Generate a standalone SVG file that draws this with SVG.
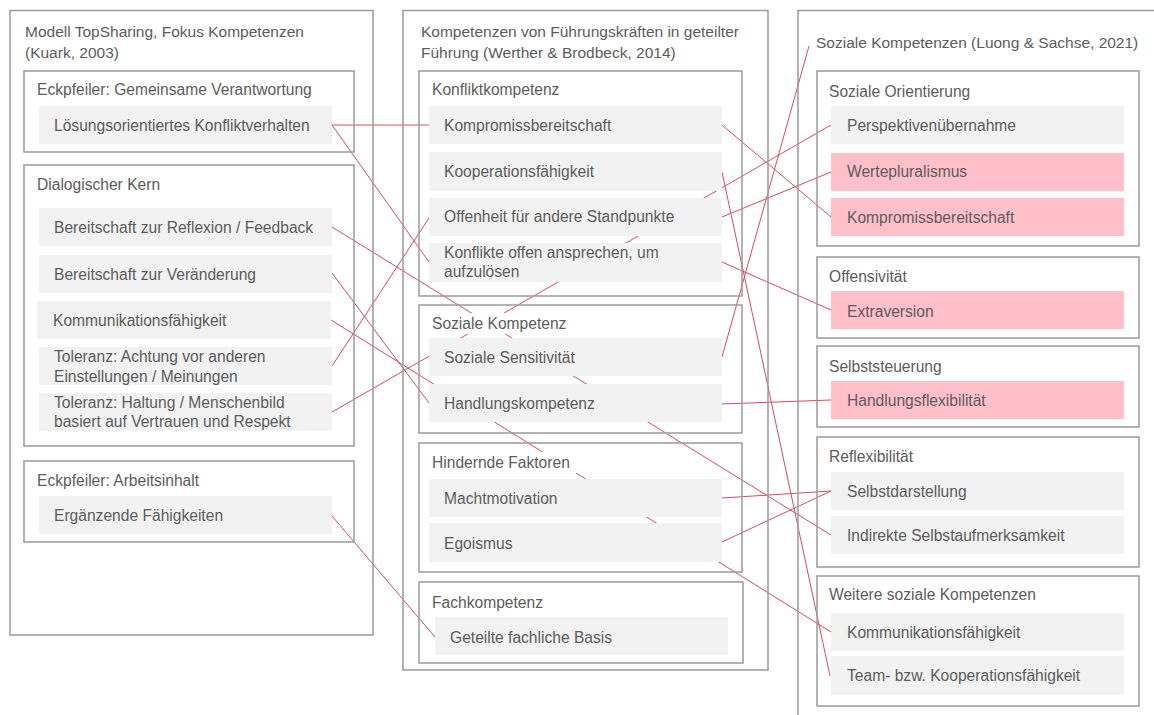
<svg xmlns="http://www.w3.org/2000/svg" width="1154" height="715" viewBox="0 0 1154 715">
<style>
.box{fill:none;stroke:#9a9a9a;stroke-width:1.5}
.item{fill:#f2f2f2}
.pink{fill:#ffc0c9}
.tbg{fill:#ffffff}
text{font-family:"Liberation Sans",Arial,sans-serif;font-size:15.6px;fill:#5c5c5c}
.h{font-size:15.5px}
.con line{stroke:#dc4a5e;stroke-width:1;fill:none}
</style>
<rect width="1154" height="715" fill="#ffffff"/>
<g id="connectors" class="con">
<line x1="332" y1="125" x2="429" y2="125"/>
<line x1="332" y1="125" x2="429" y2="262"/>
<line x1="332" y1="227" x2="831" y2="535"/>
<line x1="332" y1="273" x2="429" y2="403"/>
<line x1="331" y1="320" x2="831" y2="632"/>
<line x1="332" y1="366" x2="429" y2="218"/>
<line x1="332" y1="412" x2="831" y2="125"/>
<line x1="332" y1="516" x2="435" y2="637"/>
<line x1="722" y1="125" x2="831" y2="217"/>
<line x1="722" y1="172" x2="830" y2="676"/>
<line x1="722" y1="357" x2="809" y2="46"/>
<line x1="722" y1="217" x2="831" y2="172"/>
<line x1="722" y1="262" x2="831" y2="310"/>
<line x1="722" y1="404" x2="831" y2="400"/>
<line x1="722" y1="498" x2="831" y2="491"/>
<line x1="722" y1="542" x2="831" y2="491"/>
</g>
<!-- left column -->
<g id="col-left">
<rect class="box" x="10" y="10.5" width="363" height="624.5"/>
<text class="h" x="25" y="37">Modell TopSharing, Fokus Kompetenzen</text>
<text class="h" x="25" y="58">(Kuark, 2003)</text>
</g>
<g id="grp-verantwortung">
<rect class="box" x="24" y="71" width="330" height="81"/>
<text x="37" y="95">Eckpfeiler: Gemeinsame Verantwortung</text>
</g>
<g id="grp-dialog">
<rect class="box" x="24" y="165" width="330" height="281"/>
<text x="37" y="190">Dialogischer Kern</text>
</g>
<g id="grp-arbeitsinhalt">
<rect class="box" x="24" y="461" width="330" height="81"/>
<text x="37" y="486">Eckpfeiler: Arbeitsinhalt</text>
</g>
<!-- middle column -->
<g id="col-mid">
<rect class="box" x="403" y="10.5" width="365" height="659.5"/>
<text class="h" x="421" y="37">Kompetenzen von Führungskräften in geteilter</text>
<text class="h" x="421" y="58">Führung (Werther &amp; Brodbeck, 2014)</text>
</g>
<g id="grp-konflikt">
<rect class="box" x="419" y="71" width="323" height="225"/>
<text x="432" y="95">Konfliktkompetenz</text>
</g>
<g id="grp-sozial">
<rect class="box" x="419" y="305" width="323" height="128"/>
<rect class="tbg" x="430" y="313" width="142" height="21"/>
<text x="432" y="329">Soziale Kompetenz</text>
</g>
<g id="grp-hindernd">
<rect class="box" x="419" y="443" width="323" height="129"/>
<rect class="tbg" x="430" y="452" width="148" height="21"/>
<text x="432" y="468">Hindernde Faktoren</text>
</g>
<g id="grp-fach">
<rect class="box" x="419" y="582" width="324" height="81"/>
<text x="432" y="608">Fachkompetenz</text>
</g>
<!-- right column -->
<g id="col-right">
<rect class="box" x="798" y="10.5" width="400" height="720"/>
<text class="h" x="816" y="48">Soziale Kompetenzen (Luong &amp; Sachse, 2021)</text>
</g>
<g id="grp-orientierung">
<rect class="box" x="817" y="71" width="322" height="175"/>
<text x="829" y="97">Soziale Orientierung</text>
</g>
<g id="grp-offensiv">
<rect class="box" x="817" y="257" width="322" height="81"/>
<text x="829" y="282">Offensivität</text>
</g>
<g id="grp-selbststeuerung">
<rect class="box" x="817" y="346" width="322" height="81"/>
<text x="829" y="372">Selbststeuerung</text>
</g>
<g id="grp-reflex">
<rect class="box" x="817" y="437" width="322" height="130"/>
<text x="829" y="462">Reflexibilität</text>
</g>
<g id="grp-weitere">
<rect class="box" x="817" y="576" width="322" height="130"/>
<text x="829" y="600">Weitere soziale Kompetenzen</text>
</g>
<!-- items left -->
<g id="n-loesung"><rect class="item" x="39" y="106" width="293" height="38"/><text x="54" y="131">Lösungsorientiertes Konfliktverhalten</text></g>
<g id="n-reflexion"><rect class="item" x="39" y="208" width="293" height="38"/><text x="54" y="233">Bereitschaft zur Reflexion / Feedback</text></g>
<g id="n-veraenderung"><rect class="item" x="39" y="255" width="293" height="38"/><text x="54" y="280">Bereitschaft zur Veränderung</text></g>
<g id="n-kommunikation-l"><rect class="item" x="37" y="301" width="294" height="38"/><text x="53" y="326">Kommunikationsfähigkeit</text></g>
<g id="n-tol-achtung"><rect class="item" x="39" y="347" width="293" height="38"/><text x="54" y="362">Toleranz: Achtung vor anderen</text><text x="54" y="382">Einstellungen / Meinungen</text></g>
<g id="n-tol-haltung"><rect class="item" x="39" y="393" width="293" height="38"/><text x="54" y="408">Toleranz: Haltung / Menschenbild</text><text x="54" y="427">basiert auf Vertrauen und Respekt</text></g>
<g id="n-ergaenzend"><rect class="item" x="39" y="496" width="293" height="38"/><text x="54" y="521">Ergänzende Fähigkeiten</text></g>
<!-- items middle -->
<g id="n-kompromiss-m"><rect class="item" x="429" y="106" width="293" height="38"/><text x="444" y="131">Kompromissbereitschaft</text></g>
<g id="n-kooperation-m"><rect class="item" x="429" y="152" width="293" height="39"/><text x="444" y="177">Kooperationsfähigkeit</text></g>
<g id="n-offenheit"><rect class="item" x="429" y="198" width="293" height="38"/><text x="444" y="222">Offenheit für andere Standpunkte</text></g>
<g id="n-konflikte"><rect class="item" x="429" y="243" width="293" height="39"/><text x="444" y="258">Konflikte offen ansprechen, um</text><text x="444" y="277">aufzulösen</text></g>
<g id="n-sensitiv"><rect class="item" x="429" y="338" width="293" height="38"/><text x="444" y="363">Soziale Sensitivität</text></g>
<g id="n-handlung"><rect class="item" x="429" y="384" width="293" height="38"/><text x="444" y="409">Handlungskompetenz</text></g>
<g id="n-macht"><rect class="item" x="429" y="479" width="293" height="38"/><text x="444" y="504">Machtmotivation</text></g>
<g id="n-egoismus"><rect class="item" x="429" y="523" width="293" height="39"/><text x="444" y="549">Egoismus</text></g>
<g id="n-fachbasis"><rect class="item" x="435" y="617" width="293" height="38"/><text x="450" y="643">Geteilte fachliche Basis</text></g>
<!-- items right -->
<g id="n-perspektive"><rect class="item" x="831" y="106" width="293" height="38"/><text x="847" y="131">Perspektivenübernahme</text></g>
<g id="n-werte"><rect class="pink" x="831" y="153" width="293" height="38"/><text x="847" y="177">Wertepluralismus</text></g>
<g id="n-kompromiss-r"><rect class="pink" x="831" y="198" width="293" height="38"/><text x="847" y="223">Kompromissbereitschaft</text></g>
<g id="n-extraversion"><rect class="pink" x="831" y="291" width="293" height="38"/><text x="847" y="317">Extraversion</text></g>
<g id="n-flex"><rect class="pink" x="831" y="381" width="293" height="38"/><text x="847" y="406">Handlungsflexibilität</text></g>
<g id="n-selbstdar"><rect class="item" x="831" y="472" width="293" height="38"/><text x="847" y="497">Selbstdarstellung</text></g>
<g id="n-indirekt"><rect class="item" x="831" y="516" width="293" height="38"/><text x="847" y="541">Indirekte Selbstaufmerksamkeit</text></g>
<g id="n-kommunikation-r"><rect class="item" x="831" y="613" width="293" height="38"/><text x="847" y="638">Kommunikationsfähigkeit</text></g>
<g id="n-team"><rect class="item" x="831" y="656" width="293" height="39"/><text x="847" y="681">Team- bzw. Kooperationsfähigkeit</text></g>
</svg>
